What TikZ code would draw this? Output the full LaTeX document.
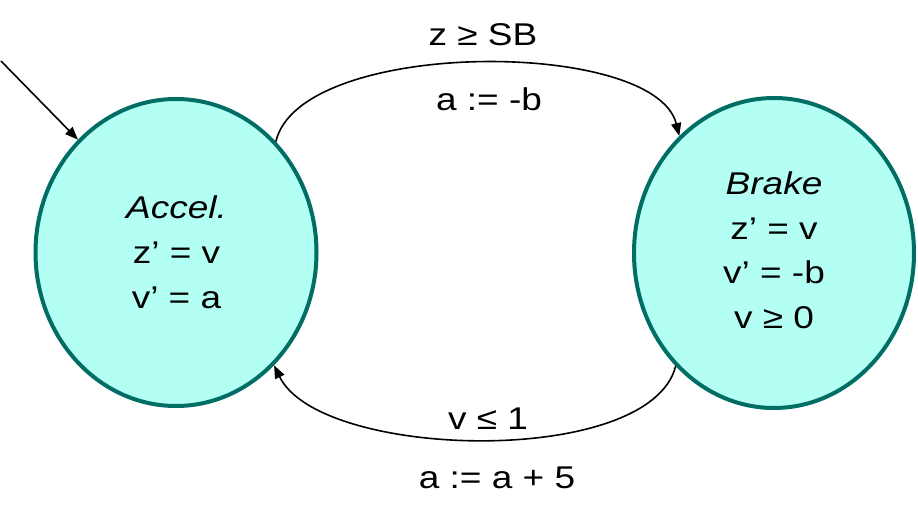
\documentclass[tikz,border=0pt]{standalone}
\usepackage{fontspec}
\setmainfont{Liberation Sans}
\usetikzlibrary{arrows.meta,shapes.geometric}
\definecolor{statefill}{RGB}{179,255,243}
\definecolor{stateline}{RGB}{0,110,100}
\newcommand{\sq}[1]{\scalebox{1}[0.85]{#1}}
\begin{document}
\begin{tikzpicture}[x=1pt,y=-1pt,
  state/.style={ellipse,draw=stateline,fill=statefill,line width=4pt,inner sep=0pt},
  edge/.style={line width=1.6pt,-{Triangle[length=13pt,width=10pt]}},
  lbl/.style={inner sep=0pt,anchor=base,font=\fontsize{37}{52.6}\selectfont},
  body/.style={inner sep=0pt,font=\fontsize{37}{52.6}\selectfont}]
\useasboundingbox (0,0) rectangle (918,521);
\node[state,minimum width=281pt,minimum height=307pt] (L) at (176,252.5) {};
\node[state,minimum width=280pt,minimum height=310pt] (R) at (774,253) {};
\node[body] (Ltext) at (176.5,254.6) {\sq{\begin{tabular}{@{}c@{}}\textit{Accel.}\\ z’ = v\\ v’ = a\end{tabular}}};
\node[body] (Rtext) at (774,252.6) {\sq{\begin{tabular}{@{}c@{}}\textit{Brake}\\ z’ = v\\ v’ = -b\\ v ≥ 0\end{tabular}}};
\coordinate (init) at (1,61);
\draw[edge] (init) -- (L.131.5);
\draw[edge] (L.48) .. controls (300,38) and (655,38) .. (R.129);
\draw[edge] (R.229) .. controls (650,468) and (320,460) .. (L.311);
\node[lbl] (g1) at (483,46) {\sq{z ≥ SB}};
\node[lbl] (a1) at (489,111) {\sq{a := -b}};
\node[lbl] (g2) at (488,429) {\sq{v ≤ 1}};
\node[lbl] (a2) at (497,488) {\sq{a := a + 5}};
\end{tikzpicture}
\end{document}
